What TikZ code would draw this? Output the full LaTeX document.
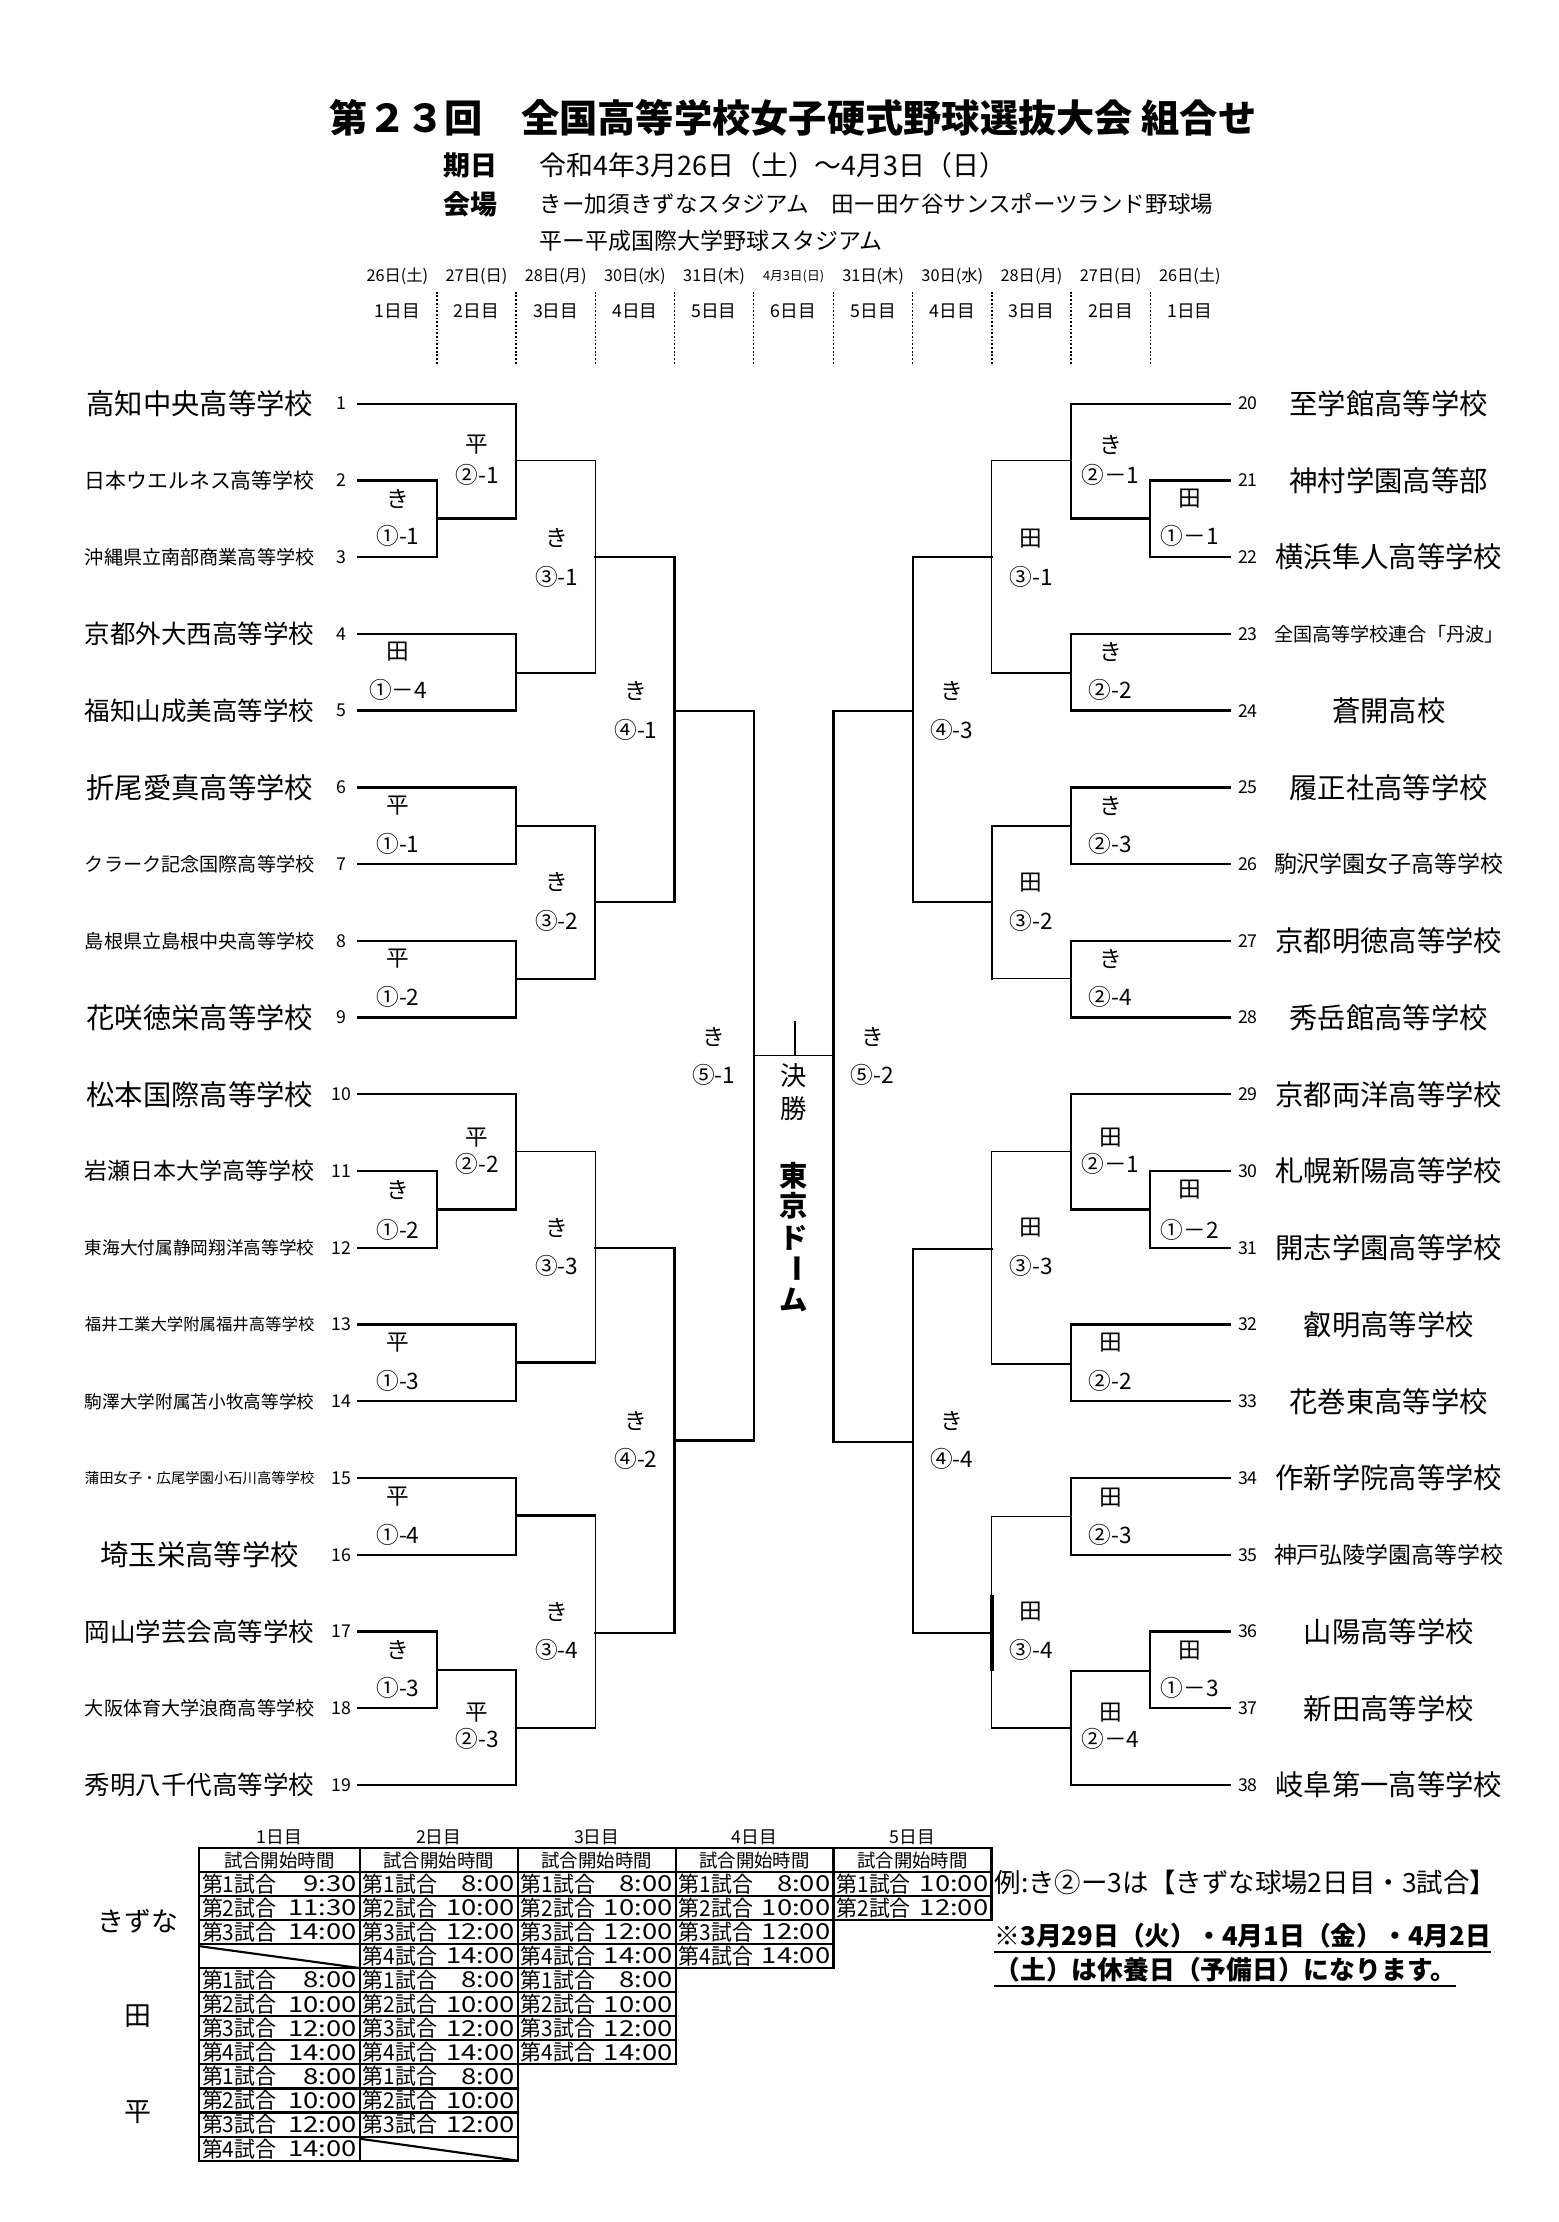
\documentclass[tikz,border=0pt]{standalone}
\usepackage{fontspec}
\setmainfont{Noto Sans CJK JP}
\usepackage{graphicx}
\newsavebox\tnb
\newcommand\fs[1]{\fontsize{#1}{#1}\selectfont}
\newcommand\tn[1]{\sbox\tnb{\fs{20}#1}\ifdim\wd\tnb>162pt\resizebox{162pt}{!}{\usebox\tnb}\else\usebox\tnb\fi}
\newcommand\br[6]{\draw[#4] (#1) -- (#1 -| #3); \draw[#5] (#2) -- (#2 -| #3); \draw[#6] (#1 -| #3) -- (#2 -| #3);}
\newcommand\bk[3]{\br{#1}{#2}{#3}{thk}{thk}{thk}}
\newcommand\ml[6]{\node[lbl] (#1a) at (#2,#3) {#5}; \node[lbl] (#1b) at (#2,#4) {#6};}
\newcommand\tcell[5]{\draw[tb] (#1,{1321.5+17*(#3-1)}) rectangle (#2,{1321.5+17*#3});
  \node[cellt,anchor=west] at ({#1+2},{1321.5+17*(#3-0.5)}) {\scalebox{0.95}[1]{第#4試合}};
  \node[cellt,anchor=east] at ({#2-2},{1321.5+17*(#3-0.5)}) {\scalebox{1.25}[1]{#5}};}
\newcommand\dcell[3]{\draw[tb] (#1,{1321.5+17*(#3-1)}) rectangle (#2,{1321.5+17*#3});
  \draw[tb] (#1,{1321.5+17*(#3-1)+1.5}) -- (#2,{1321.5+17*#3});}
\newcommand\hcell[2]{\draw[tb] (#1,1305) rectangle (#2,1321.5);
  \node[font=\fs{13}] at ({(#1+#2)/2},1313.5) {試合開始時間};}
\tikzset{
  every node/.style={inner sep=0pt},
  thk/.style={line width=1.6pt, line cap=rect},
  thn/.style={line width=0.75pt, line cap=rect},
  lbl/.style={font=\fs{16}},
  tb/.style={line width=1.5pt},
  cellt/.style={font=\fs{15.5}},
  dots/.style={line width=0.9pt, dash pattern=on 1.3pt off 1.3pt},
}
\begin{document}
\begin{tikzpicture}[x=1pt,y=-1pt]
\useasboundingbox (0,0) rectangle (1100,1568.8);
\fill[white] (0,0) rectangle (1100,1568.8);

% ---------- header ----------
\node[font=\bfseries\fs{27}] (title) at (560,83) {第２３回　全国高等学校女子硬式野球選抜大会 組合せ};
\node[anchor=west,font=\bfseries\fs{19}] (kijitsu) at (313,117) {期日};
\node[anchor=west,font=\fs{19}] (date) at (381,117) {令和4年3月26日（土）～4月3日（日）};
\node[anchor=west,font=\bfseries\fs{19}] (kaijo) at (313,144) {会場};
\node[anchor=west,font=\fs{15.9}] (ven1) at (381,144) {きー加須きずなスタジアム　田ー田ケ谷サンスポーツランド野球場};
\node[anchor=west,font=\fs{16.2}] (ven2) at (381,170) {平ー平成国際大学野球スタジアム};

\foreach \x/\d/\n [count=\c] in {280.55/26日(土)/1日目, 336.45/27日(日)/2日目, 392.35/28日(月)/3日目,
   448.25/30日(水)/4日目, 504.15/31日(木)/5日目, 616.45/31日(木)/5日目, 672.35/30日(水)/4日目,
   728.25/28日(月)/3日目, 784.15/27日(日)/2日目, 840.05/26日(土)/1日目}{
  \node[font=\fs{11.5}] (dt\c) at (\x,195) {\d};
  \node[font=\fs{12.5}] (dn\c) at (\x,220) {\n};
}
\node[font=\fs{9}] (dt6) at (560.3,195) {4月3日(日)};
\node[font=\fs{12.5}] (dn6) at (560.3,220) {6日目};
\foreach \x in {308.5,364.4,420.3,476.2,532.1,588.5,644.4,700.3,756.2,812.1}
  \draw[dots] (\x,206) -- (\x,258);

% ---------- teams ----------
\foreach \i/\s in {1/高知中央高等学校, 2/日本ウエルネス高等学校, 3/沖縄県立南部商業高等学校,
  4/京都外大西高等学校, 5/福知山成美高等学校, 6/折尾愛真高等学校, 7/クラーク記念国際高等学校,
  8/島根県立島根中央高等学校, 9/花咲徳栄高等学校, 10/松本国際高等学校, 11/岩瀬日本大学高等学校,
  12/東海大付属静岡翔洋高等学校, 13/福井工業大学附属福井高等学校, 14/駒澤大学附属苫小牧高等学校,
  15/蒲田女子・広尾学園小石川高等学校, 16/埼玉栄高等学校, 17/岡山学芸会高等学校,
  18/大阪体育大学浪商高等学校, 19/秀明八千代高等学校}{
  \coordinate (t\i) at (252.6,{285+54.18*(\i-1)});
  \node (nm\i) at (141,{285+54.18*(\i-1)}) {\tn{\s}};
  \node[font=\fs{12.5}] (no\i) at (241,{285+54.18*(\i-1)}) {\i};
}
\foreach \i/\s in {20/至学館高等学校, 21/神村学園高等部, 22/横浜隼人高等学校, 23/全国高等学校連合「丹波」,
  24/蒼開高校, 25/履正社高等学校, 26/駒沢学園女子高等学校, 27/京都明徳高等学校, 28/秀岳館高等学校,
  29/京都両洋高等学校, 30/札幌新陽高等学校, 31/開志学園高等学校, 32/叡明高等学校, 33/花巻東高等学校,
  34/作新学院高等学校, 35/神戸弘陵学園高等学校, 36/山陽高等学校, 37/新田高等学校, 38/岐阜第一高等学校}{
  \coordinate (t\i) at (868,{285+54.18*(\i-20)});
  \node (nm\i) at (980.5,{285+54.18*(\i-20)}) {\tn{\s}};
  \node[font=\fs{12.5}] (no\i) at (881,{285+54.18*(\i-20)}) {\i};
}

% ---------- match points ----------
\coordinate (a11) at (308.5,366);
\coordinate (p21) at (364.4,325);
\coordinate (d14) at (364.4,475);
\coordinate (k31) at (420.3,393);
\coordinate (p11) at (364.4,583);
\coordinate (p12) at (364.4,691);
\coordinate (k32) at (420.3,637);
\coordinate (k41) at (476.2,502);
\coordinate (k12) at (308.5,854);
\coordinate (p22) at (364.4,813);
\coordinate (p13) at (364.4,962);
\coordinate (k33) at (420.3,881);
\coordinate (p14) at (364.4,1070);
\coordinate (k13) at (308.5,1179);
\coordinate (p23) at (364.4,1220);
\coordinate (k34) at (420.3,1152.7);
\coordinate (k42) at (476.2,1017);
\coordinate (k51) at (532.1,745);

\coordinate (D11) at (812.1,366);
\coordinate (K21) at (756.2,325);
\coordinate (K22) at (756.2,475);
\coordinate (D31) at (700.3,393);
\coordinate (K23) at (756.2,583);
\coordinate (K24) at (756.2,691);
\coordinate (D32) at (700.3,637);
\coordinate (K43) at (644.4,502);
\coordinate (D12) at (812.1,854);
\coordinate (D21) at (756.2,813);
\coordinate (D22) at (756.2,963);
\coordinate (D33) at (700.3,882);
\coordinate (D23) at (756.2,1071);
\coordinate (D13) at (812.1,1180);
\coordinate (D24) at (756.2,1220);
\coordinate (D34) at (700.3,1153);
\coordinate (K44) at (644.4,1018);
\coordinate (K52) at (588.5,745);

% ---------- brackets left ----------
\bk{t2}{t3}{a11}
\bk{t1}{a11}{p21}
\bk{t4}{t5}{d14}
\br{p21}{d14}{k31}{thn}{thk}{thn}
\bk{t6}{t7}{p11}
\bk{t8}{t9}{p12}
\bk{p11}{p12}{k32}
\bk{k31}{k32}{k41}
\bk{t11}{t12}{k12}
\bk{t10}{k12}{p22}
\bk{t13}{t14}{p13}
\br{p22}{p13}{k33}{thn}{thk}{thn}
\bk{t15}{t16}{p14}
\bk{t17}{t18}{k13}
\bk{k13}{t19}{p23}
\br{p14}{p23}{k34}{thk}{thn}{thn}
\bk{k33}{k34}{k42}
\bk{k41}{k42}{k51}
% ---------- brackets right ----------
\bk{t21}{t22}{D11}
\bk{t20}{D11}{K21}
\bk{t23}{t24}{K22}
\br{K21}{K22}{D31}{thn}{thk}{thn}
\bk{t25}{t26}{K23}
\bk{t27}{t28}{K24}
\br{K23}{K24}{D32}{thk}{thn}{thk}
\bk{D31}{D32}{K43}
\bk{t30}{t31}{D12}
\bk{t29}{D12}{D21}
\bk{t32}{t33}{D22}
\br{D21}{D22}{D33}{thn}{thk}{thn}
\bk{t34}{t35}{D23}
\bk{t36}{t37}{D13}
\bk{D13}{t38}{D24}
\br{D23}{D24}{D34}{thn}{thn}{thn}
\coordinate (d34a) at (700.3,1126);
\coordinate (d34b) at (700.3,1180);
\draw[line width=2.6pt] (d34a) -- (d34b);
\bk{D33}{D34}{K44}
\bk{K43}{K44}{K52}

% ---------- final ----------
\draw[thn] (k51) -- (K52);
\coordinate (fc) at (561.3,745);
\coordinate (ft) at (561.3,721);
\draw[thn] (ft) -- (fc);
\node[font=\fs{18.5}] (ke) at (560.3,759.5) {決};
\node[font=\fs{18.5}] (sho) at (560.3,783) {勝};
\node[font=\bfseries\fs{20}] (to) at (560.3,830) {東};
\node[font=\bfseries\fs{20}] (kyo) at (560.3,851) {京};
\node[font=\bfseries\fs{20}] (do) at (560.3,874) {ド};
\node[font=\bfseries\fs{20},rotate=-90] (bou) at (560.3,895.5) {ー};
\node[font=\bfseries\fs{20}] (mu) at (560.3,918) {ム};

% ---------- match labels left ----------
\ml{p21}{337}{314}{335}{平}{②-1}
\ml{a11}{281}{352}{378}{き}{①-1}
\ml{k31}{393}{380}{407}{き}{③-1}
\ml{d14}{281}{460}{487}{田}{①－4}
\ml{k41}{449}{488}{515}{き}{④-1}
\ml{p11}{281}{569}{596}{平}{①-1}
\ml{k32}{393}{623}{650}{き}{③-2}
\ml{p12}{281}{677}{704}{平}{①-2}
\ml{k51}{504}{732}{759}{き}{⑤-1}
\ml{p22}{337}{803}{822}{平}{②-2}
\ml{k12}{281}{840}{868}{き}{①-2}
\ml{k33}{393}{867}{894}{き}{③-3}
\ml{p13}{281}{948}{975}{平}{①-3}
\ml{k42}{449}{1003}{1030}{き}{④-2}
\ml{p14}{281}{1057}{1084}{平}{①-4}
\ml{k34}{393}{1138}{1165}{き}{③-4}
\ml{k13}{281}{1165}{1192}{き}{①-3}
\ml{p23}{337}{1209}{1228}{平}{②-3}
% ---------- match labels right ----------
\ml{K21}{784}{314}{335}{き}{②－1}
\ml{D11}{840}{352}{378}{田}{①－1}
\ml{D31}{728}{380}{407}{田}{③-1}
\ml{K22}{784}{460}{487}{き}{②-2}
\ml{K43}{672}{488}{515}{き}{④-3}
\ml{K23}{784}{569}{596}{き}{②-3}
\ml{D32}{728}{623}{650}{田}{③-2}
\ml{K24}{784}{677}{704}{き}{②-4}
\ml{K52}{616}{732}{759}{き}{⑤-2}
\ml{D21}{784}{803}{822}{田}{②－1}
\ml{D12}{840}{840}{868}{田}{①－2}
\ml{D33}{728}{867}{894}{田}{③-3}
\ml{D22}{784}{948}{975}{田}{②-2}
\ml{K44}{672}{1003}{1030}{き}{④-4}
\ml{D23}{784}{1057}{1084}{田}{②-3}
\ml{D34}{728}{1138}{1165}{田}{③-4}
\ml{D13}{840}{1165}{1192}{田}{①－3}
\ml{D24}{784}{1209}{1228}{田}{②－4}

% ---------- schedule table ----------
\foreach \x/\n [count=\c] in {197.25/1日目, 309.75/2日目, 421.25/3日目, 532.75/4日目, 644.25/5日目}
  \node[font=\fs{12.5}] (td\c) at (\x,1297) {\n};
\hcell{140.5}{254} \hcell{254}{365.5} \hcell{365.5}{477} \hcell{477}{588.5} \hcell{588.5}{700}
% col 1
\tcell{140.5}{254}{1}{1}{9:30}
\tcell{140.5}{254}{2}{2}{11:30}
\tcell{140.5}{254}{3}{3}{14:00}
\dcell{140.5}{254}{4}
\tcell{140.5}{254}{5}{1}{8:00}
\tcell{140.5}{254}{6}{2}{10:00}
\tcell{140.5}{254}{7}{3}{12:00}
\tcell{140.5}{254}{8}{4}{14:00}
\tcell{140.5}{254}{9}{1}{8:00}
\tcell{140.5}{254}{10}{2}{10:00}
\tcell{140.5}{254}{11}{3}{12:00}
\tcell{140.5}{254}{12}{4}{14:00}
% col 2
\tcell{254}{365.5}{1}{1}{8:00}
\tcell{254}{365.5}{2}{2}{10:00}
\tcell{254}{365.5}{3}{3}{12:00}
\tcell{254}{365.5}{4}{4}{14:00}
\tcell{254}{365.5}{5}{1}{8:00}
\tcell{254}{365.5}{6}{2}{10:00}
\tcell{254}{365.5}{7}{3}{12:00}
\tcell{254}{365.5}{8}{4}{14:00}
\tcell{254}{365.5}{9}{1}{8:00}
\tcell{254}{365.5}{10}{2}{10:00}
\tcell{254}{365.5}{11}{3}{12:00}
\dcell{254}{365.5}{12}
% col 3
\tcell{365.5}{477}{1}{1}{8:00}
\tcell{365.5}{477}{2}{2}{10:00}
\tcell{365.5}{477}{3}{3}{12:00}
\tcell{365.5}{477}{4}{4}{14:00}
\tcell{365.5}{477}{5}{1}{8:00}
\tcell{365.5}{477}{6}{2}{10:00}
\tcell{365.5}{477}{7}{3}{12:00}
\tcell{365.5}{477}{8}{4}{14:00}
% col 4
\tcell{477}{588.5}{1}{1}{8:00}
\tcell{477}{588.5}{2}{2}{10:00}
\tcell{477}{588.5}{3}{3}{12:00}
\tcell{477}{588.5}{4}{4}{14:00}
% col 5
\tcell{588.5}{700}{1}{1}{10:00}
\tcell{588.5}{700}{2}{2}{12:00}
% venue labels
\node[font=\fs{19}] (vk) at (97.5,1356.5) {きずな};
\node[font=\fs{19}] (vd) at (97.5,1423.5) {田};
\node[font=\fs{19}] (vh) at (97.5,1491.5) {平};

% ---------- notes ----------
\node[anchor=west,font=\fs{18.7}] (ex) at (702,1329) {例:き②ー3は【きずな球場2日目・3試合】};
\node[anchor=west,font=\bfseries\fs{18.2}] (r1) at (702,1367) {※3月29日（火）・4月1日（金）・4月2日};
\node[anchor=west,font=\bfseries\fs{18.2}] (r2) at (702,1391) {（土）は休養日（予備日）になります。};
\draw[line width=1.5pt] (r1.south west) ++(0,2) -- ([yshift=-2pt]r1.south east);
\draw[line width=1.5pt] (r2.south west) ++(0,2) -- ([yshift=-2pt]r2.south east);
\end{tikzpicture}
\end{document}
